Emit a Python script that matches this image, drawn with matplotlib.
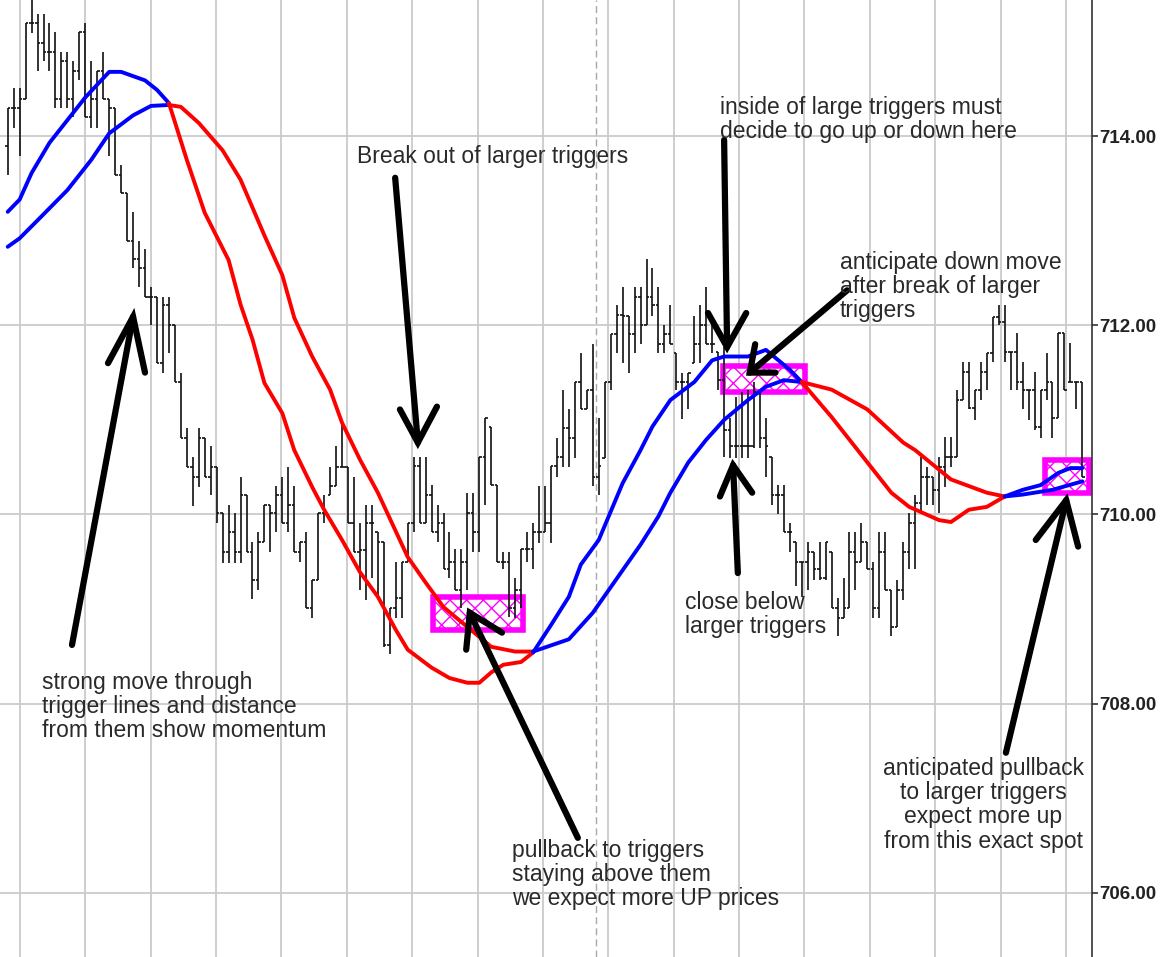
import numpy as np
import matplotlib
matplotlib.use("Agg")
import matplotlib.pyplot as plt
from matplotlib.patches import Rectangle

# ---------------- data ----------------
highs = [714.30, 714.51, 714.51, 715.20, 715.44, 715.29, 715.29, 715.20, 715.10, 714.89,
         714.89, 714.80, 715.10, 715.20, 714.80, 714.69, 714.89, 714.39, 714.30, 713.70,
         713.40, 713.20, 712.89, 712.81, 712.41, 712.30, 712.30, 712.30, 712.00, 711.50,
         710.91, 710.61, 710.91, 710.81, 710.72, 710.50, 710.02, 710.10, 710.02, 710.40,
         710.21, 709.71, 709.81, 710.10, 710.10, 710.30, 710.40, 710.50, 710.30, 709.71,
         709.81, 709.31, 710.02, 710.21, 710.50, 710.72, 710.97, 710.50, 710.40, 709.91,
         710.10, 710.10, 709.81, 709.71, 709.01, 709.50, 709.50, 709.91, 710.61, 710.61,
         710.61, 710.31, 710.10, 710.02, 709.81, 709.63, 709.63, 710.23, 710.23, 710.61,
         711.02, 710.92, 710.31, 709.60, 709.60, 709.33, 709.63, 709.81, 709.91, 710.30,
         710.30, 710.51, 710.81, 711.32, 711.11, 711.40, 711.71, 711.32, 711.80, 711.02,
         711.40, 711.91, 712.22, 712.41, 712.10, 712.41, 712.41, 712.70, 712.61, 712.41,
         712.00, 712.21, 711.71, 711.50, 711.50, 712.10, 712.21, 712.41, 712.00, 711.72,
         711.77, 711.02, 711.24, 711.29, 711.32, 711.40, 711.30, 711.02, 710.61, 710.31,
         710.31, 709.91, 709.71, 709.50, 709.71, 709.60, 709.71, 709.71, 709.60, 709.12,
         709.33, 709.81, 709.81, 709.91, 709.71, 709.50, 709.81, 709.81, 709.20, 709.31,
         709.71, 710.02, 710.21, 710.61, 710.50, 710.40, 710.61, 710.82, 710.82, 711.32,
         711.61, 711.61, 711.32, 711.61, 711.71, 712.09, 712.22, 712.22, 711.72, 711.92,
         711.61, 711.32, 711.51, 711.32, 711.71, 711.40, 711.92, 711.92, 711.81, 711.40,
         711.40]
lows = [713.59, 714.09, 713.79, 714.39, 715.09, 714.69, 714.80, 714.69, 714.30, 714.30,
        714.30, 714.20, 714.59, 714.20, 714.09, 714.09, 714.39, 713.79, 713.59, 713.40,
        712.89, 712.61, 712.40, 712.30, 712.00, 711.60, 711.50, 711.71, 711.40, 710.81,
        710.50, 710.09, 710.29, 710.40, 710.21, 709.91, 709.49, 709.49, 709.49, 709.49,
        709.60, 709.11, 709.20, 709.71, 709.60, 709.81, 709.91, 709.81, 709.60, 709.50,
        709.01, 708.91, 709.31, 709.91, 710.21, 710.30, 710.50, 709.91, 709.60, 709.20,
        709.10, 709.33, 709.12, 708.60, 708.52, 708.91, 708.91, 709.50, 709.81, 709.91,
        709.91, 709.81, 709.71, 709.42, 709.33, 709.20, 709.01, 709.20, 709.60, 709.60,
        710.10, 710.31, 709.50, 709.42, 708.92, 708.91, 709.01, 709.50, 709.42, 709.70,
        709.81, 709.70, 710.40, 710.50, 710.50, 710.60, 711.11, 711.11, 710.30, 710.21,
        710.60, 711.32, 711.71, 711.60, 711.50, 711.71, 711.80, 712.00, 712.10, 711.71,
        711.71, 711.80, 711.32, 711.01, 711.11, 711.60, 711.60, 711.80, 711.71, 711.32,
        710.61, 710.60, 710.60, 710.60, 710.60, 710.70, 710.70, 710.40, 710.10, 710.00,
        709.81, 709.60, 709.24, 709.13, 709.20, 709.31, 709.31, 709.31, 709.01, 708.71,
        708.91, 709.01, 709.20, 709.50, 709.42, 708.91, 708.91, 709.20, 708.71, 708.81,
        709.10, 709.42, 709.42, 710.02, 710.10, 710.10, 710.02, 710.29, 710.50, 710.61,
        711.21, 711.11, 711.00, 711.21, 711.32, 711.61, 712.00, 711.61, 711.32, 711.32,
        711.11, 711.00, 710.89, 710.81, 711.21, 710.81, 711.02, 711.32, 711.40, 711.11,
        710.40]
closes = [714.30, 714.30, 714.39, 715.20, 715.20, 714.99, 714.89, 714.89, 714.39, 714.80,
          714.39, 714.69, 715.10, 714.20, 714.39, 714.69, 714.39, 714.30, 713.59, 713.40,
          712.89, 712.70, 712.61, 712.30, 712.30, 711.60, 712.21, 712.00, 711.40, 710.81,
          710.50, 710.40, 710.81, 710.40, 710.50, 710.02, 709.60, 709.81, 709.60, 710.21,
          709.60, 709.31, 709.71, 710.10, 710.02, 710.21, 709.91, 710.10, 709.60, 709.71,
          709.01, 709.31, 710.02, 710.02, 710.30, 710.50, 710.50, 709.91, 709.60, 709.62,
          709.91, 709.91, 709.71, 708.62, 709.01, 709.12, 709.50, 709.91, 710.51, 709.91,
          710.21, 709.81, 709.91, 709.42, 709.50, 709.20, 709.50, 710.02, 709.81, 710.61,
          711.02, 710.31, 709.50, 709.50, 709.01, 709.20, 709.63, 709.63, 709.81, 709.81,
          709.91, 710.51, 710.61, 710.91, 710.81, 711.40, 711.11, 711.32, 710.40, 710.51,
          711.40, 711.91, 712.11, 712.10, 711.91, 712.30, 712.00, 712.30, 712.21, 711.80,
          711.91, 711.80, 711.40, 711.40, 711.50, 711.80, 712.00, 711.80, 711.80, 711.42,
          710.89, 710.72, 710.72, 710.72, 710.72, 711.30, 710.81, 710.72, 710.21, 710.21,
          709.81, 709.81, 709.50, 709.50, 709.60, 709.42, 709.33, 709.71, 709.01, 708.91,
          709.01, 709.60, 709.50, 709.71, 709.42, 709.01, 709.60, 709.20, 708.81, 709.20,
          709.60, 709.91, 710.12, 710.40, 710.40, 710.26, 710.50, 710.61, 710.61, 711.21,
          711.51, 711.13, 711.32, 711.51, 711.71, 712.09, 712.03, 711.72, 711.72, 711.40,
          711.32, 711.32, 710.92, 711.32, 711.40, 711.02, 711.92, 711.32, 711.40, 711.40,
          710.40]
first_open = 713.90

# trigger lines (bar index, price)
fast_idx = [0, 2, 4, 7, 10, 13, 17, 19, 23, 25, 27, 30, 33, 37, 39, 41, 43, 46, 48, 51,
            53, 56, 59, 62, 65, 67, 71, 74, 77, 79, 81, 83, 86, 88, 91, 94, 96, 99, 103, 106,
            108, 111, 115, 118, 120, 124, 127, 131, 133, 138, 144, 148, 151, 156, 158, 161,
            164, 167, 170, 173, 176, 178, 180]
fast_val = [713.20, 713.33, 713.61, 713.93, 714.17, 714.41, 714.68, 714.68, 714.59, 714.49,
            714.35, 713.75, 713.19, 712.69, 712.22, 711.85, 711.39, 711.07, 710.68, 710.29,
            710.05, 709.73, 709.39, 709.13, 708.78, 708.57, 708.38, 708.27, 708.22, 708.22,
            708.33, 708.41, 708.44, 708.54, 708.83, 709.13, 709.47, 709.73, 710.33, 710.68,
            710.93, 711.21, 711.40, 711.63, 711.67, 711.67, 711.74, 711.53, 711.40, 711.03,
            710.55, 710.23, 710.08, 709.94, 709.92, 710.05, 710.08, 710.19, 710.26, 710.31,
            710.44, 710.49, 710.49]
slow_idx = [0, 2, 5, 10, 14, 17, 21, 24, 27, 29, 32, 36, 39, 43, 46, 48, 51, 54, 56, 59,
            62, 67, 70, 73, 77, 81, 85, 88, 94, 98, 106, 109, 111, 114, 117, 120, 124, 127,
            130, 133, 138, 144, 150, 152, 158, 164, 167, 170, 175, 180]
slow_val = [712.83, 712.92, 713.11, 713.43, 713.75, 714.03, 714.22, 714.32, 714.33, 714.31,
            714.14, 713.85, 713.54, 712.95, 712.53, 712.08, 711.67, 711.32, 710.97, 710.58,
            710.23, 709.55, 709.28, 709.02, 708.81, 708.60, 708.55, 708.55, 708.68, 708.96,
            709.68, 709.98, 710.23, 710.55, 710.79, 711.00, 711.21, 711.35, 711.42, 711.40,
            711.32, 711.11, 710.76, 710.68, 710.37, 710.23, 710.19, 710.21, 710.26, 710.35]
# trend regimes: (first bar, last bar, colour)
regime_start = [0, 27, 88, 133, 167]
regime_end = [27, 88, 133, 167, 180]
regime_color = ["#0000FF", "#FF0000", "#0000FF", "#FF0000", "#0000FF"]

y_ticks = [706, 708, 710, 712, 714]

# ---------------- figure ----------------
W, H = 1165, 957
fig = plt.figure(figsize=(W / 100, H / 100), dpi=100)
ax = fig.add_axes([0, 0, 1092 / W, 1])
ax.set_xlim(-1.29, 181.62)
ax.set_ylim(705.32, 715.44)

n = len(highs)
idx = np.arange(n)
opens = [first_open] + closes[:-1]
opens = np.clip(opens, lows, highs)

grid_c = "#CACACA"
# vertical grid
for gx in np.arange(2.06, 182, 10.95):
    ax.axvline(gx, color=grid_c, lw=1.3, zorder=0)
ax.axvline(98.5, color="#A8A8A8", lw=1.0, ls=(0, (5, 3)), zorder=0)
for t in y_ticks:
    ax.axhline(t, color=grid_c, lw=1.3, zorder=0)

# magenta boxes
boxes = [(71.2, 708.78, 15.1, 0.35), (119.8, 711.30, 13.7, 0.27), (173.8, 710.23, 7.4, 0.35)]
plt.rcParams["hatch.linewidth"] = 1.0
for bx, by, bw, bh in boxes:
    ax.add_patch(Rectangle((bx, by), bw, bh, facecolor="white", edgecolor="#FF00FF",
                           hatch="xx", lw=0, zorder=1))
    ax.add_patch(Rectangle((bx, by), bw, bh, facecolor="none", edgecolor="#FF00FF",
                           lw=4.0, zorder=1.1))

# OHLC bars
ax.vlines(idx, lows, highs, color="#111111", lw=1.2, zorder=2)
ax.hlines(opens, idx - 0.42, idx, color="#111111", lw=1.2, zorder=2)
ax.hlines(closes, idx, idx + 0.42, color="#111111", lw=1.2, zorder=2)

# trigger lines
fi = np.array(fast_idx); fv = np.array(fast_val)
si = np.array(slow_idx); sv = np.array(slow_val)
for a, b, c in zip(regime_start, regime_end, regime_color):
    m = (fi >= a) & (fi <= b)
    ax.plot(fi[m], fv[m], color=c, lw=2.8, solid_capstyle="round", solid_joinstyle="round", zorder=3)
    m = (si >= a) & (si <= b)
    ax.plot(si[m], sv[m], color=c, lw=2.8, solid_capstyle="round", solid_joinstyle="round", zorder=3)

# hand-drawn arrows: tail, tip, wing1, wing2 (data coords)
arrows = [
    ((10.77, 708.62), (21.0, 712.09), (16.8, 711.60), (23.0, 711.50)),
    ((64.9, 713.56), (68.7, 710.76), (65.7, 711.11), (71.9, 711.14)),
    ((95.5, 706.58), (77.4, 708.96), (76.8, 708.57), (82.8, 708.75)),
    ((120.0, 713.96), (120.5, 711.77), (117.3, 712.13), (123.7, 712.13)),
    ((140.6, 712.37), (124.3, 711.50), (128.6, 711.50), (125.2, 711.80)),
    ((122.3, 709.38), (121.5, 710.52), (119.3, 710.19), (124.7, 710.23)),
    ((167.2, 707.48), (177.3, 710.15), (172.2, 709.73), (179.3, 709.66)),
]
for tail, tip, w1, w2 in arrows:
    ax.plot([tail[0], tip[0]], [tail[1], tip[1]], color="black", lw=4.5,
            solid_capstyle="round", zorder=4)
    ax.plot([w1[0], tip[0], w2[0]], [w1[1], tip[1], w2[1]], color="black", lw=4.5,
            solid_capstyle="round", solid_joinstyle="miter", zorder=4)

# annotation texts
tkw = dict(fontsize=16.5, color="#2A2A2A", family="Liberation Sans", linespacing=1.07, zorder=5)
ax.text(58.5, 713.78, "Break out of larger triggers", ha="left", va="center", **tkw)
ax.text(119.3, 714.18, "inside of large triggers must\ndecide to go up or down here", ha="left", va="center", **tkw)
ax.text(139.4, 712.41, "anticipate down move\nafter break of larger\ntriggers", ha="left", va="center", **tkw)
ax.text(113.4, 708.94, "close below\nlarger triggers", ha="left", va="center", **tkw)
ax.text(5.75, 707.97, "strong move through\ntrigger lines and distance\nfrom them show momentum", ha="left", va="center", **tkw)
ax.text(84.5, 706.19, "pullback to triggers\nstaying above them\nwe expect more UP prices", ha="left", va="center", **tkw)
ax.text(163.4, 706.93, "anticipated pullback\nto larger triggers\nexpect more up\nfrom this exact spot", ha="center", va="center", multialignment="center", **tkw)

# axes styling
for s in ["top", "bottom", "left"]:
    ax.spines[s].set_visible(False)
ax.spines["right"].set_color("#333333")
ax.spines["right"].set_linewidth(1.2)
ax.set_xticks([])
ax.yaxis.tick_right()
ax.set_yticks(y_ticks)
ax.set_yticklabels([f"{t:.2f}" for t in y_ticks])
ax.tick_params(axis="y", direction="out", length=4, width=1.2, color="#333333", pad=1,
               labelsize=13.5, labelcolor="#222222")
for lab in ax.get_yticklabels():
    lab.set_fontweight("bold")
    lab.set_family("Liberation Sans")

fig.savefig("out.png", dpi=100, facecolor="white")
